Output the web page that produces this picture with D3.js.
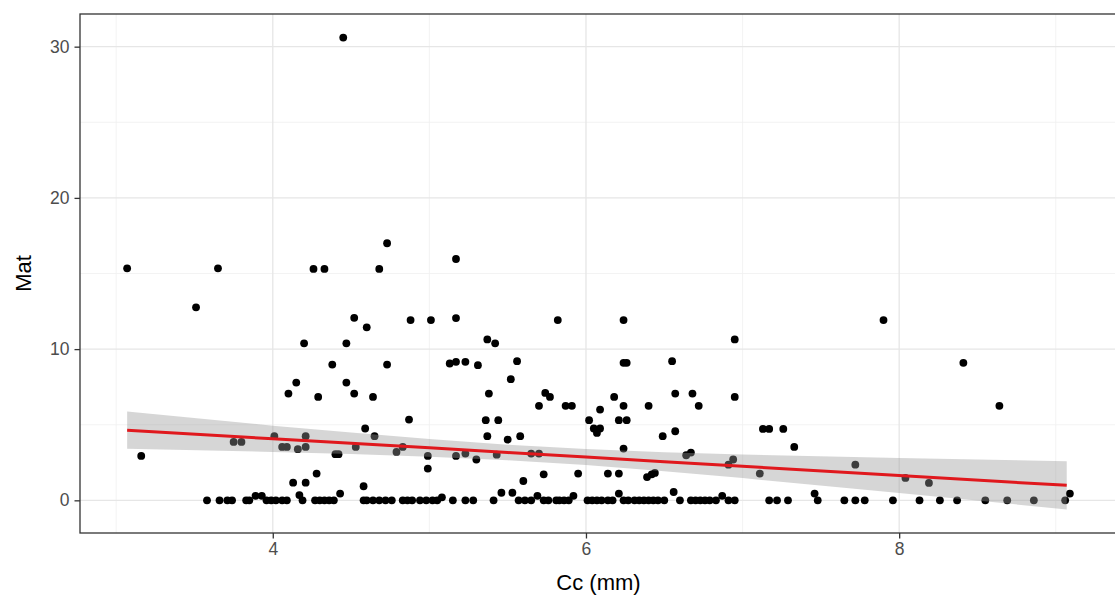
<!DOCTYPE html>
<html>
<head>
<meta charset="utf-8">
<script src="https://cdn.jsdelivr.net/npm/d3@7"></script>
<style>
  body { margin: 0; background: #fff; }
  text { font-family: "Liberation Sans", Arial, sans-serif; }
</style>
</head>
<body>
<svg id="chart" width="1115" height="605"></svg>
<script>
'use strict';

// points lying on (or just above) Mat = 0
const ccBase = [
  3.58, 3.66, 3.71, 3.74, 3.83, 3.85, 3.89, 3.93, 3.96, 3.99, 4.02, 4.06, 4.09, 4.17, 4.19, 4.27, 4.30, 4.33, 4.36, 4.39, 4.43,
  4.58, 4.60, 4.64, 4.68, 4.72, 4.76, 4.83, 4.86, 4.89, 4.94, 4.98, 5.02, 5.05, 5.08, 5.15, 5.23, 5.28, 5.41, 5.46, 5.53, 5.57,
  5.61, 5.65, 5.69, 5.73, 5.76, 5.81, 5.83, 5.86, 5.89, 5.92, 6.01, 6.04, 6.07, 6.10, 6.14, 6.17, 6.21, 6.24, 6.27, 6.31, 6.34,
  6.37, 6.40, 6.43, 6.46, 6.50, 6.56, 6.60, 6.67, 6.70, 6.73, 6.76, 6.79, 6.83, 6.87, 6.91, 6.95, 7.17, 7.22, 7.29,
  7.46, 7.48, 7.65, 7.72, 7.78, 7.96, 8.13, 8.26, 8.37, 8.55, 8.69, 8.86, 9.06, 9.09
];
const matBase = [
  0, 0, 0, 0, 0, 0, 0.3, 0.3, 0, 0, 0, 0, 0, 0.35, 0, 0, 0, 0, 0, 0, 0.45,
  0, 0, 0, 0, 0, 0, 0, 0, 0, 0, 0, 0, 0, 0.2, 0, 0, 0, 0, 0.5, 0.5, 0,
  0, 0, 0.3, 0, 0, 0, 0, 0, 0, 0.3, 0, 0, 0, 0, 0, 0, 0.45, 0, 0, 0, 0,
  0, 0, 0, 0, 0, 0.55, 0, 0, 0, 0, 0, 0, 0, 0.3, 0, 0, 0, 0, 0,
  0.45, 0, 0, 0, 0, 0, 0, 0, 0, 0, 0, 0, 0, 0.45
];

// the rest of the points
const ccRaised = [
  3.07, 3.16, 3.51, 3.65, 3.75, 3.80, 4.01, 4.06, 4.09, 4.10, 4.13, 4.15, 4.16, 4.20, 4.21, 4.21, 4.21, 4.26, 4.28, 4.29,
  4.33, 4.38, 4.40, 4.42, 4.45, 4.47, 4.47, 4.52, 4.52, 4.53, 4.58, 4.59, 4.60, 4.64, 4.65, 4.68, 4.73, 4.73, 4.79, 4.83,
  4.87, 4.88, 4.99, 4.99, 5.01, 5.13, 5.17, 5.17, 5.17, 5.17, 5.23, 5.23, 5.30, 5.31, 5.36, 5.37, 5.37, 5.38, 5.42, 5.43,
  5.44, 5.50, 5.52, 5.56, 5.58, 5.60, 5.65, 5.70, 5.70, 5.73, 5.74, 5.77, 5.82, 5.87, 5.91, 5.95, 6.02, 6.05, 6.07, 6.09,
  6.09, 6.14, 6.18, 6.21, 6.21, 6.24, 6.24, 6.24, 6.24, 6.26, 6.26, 6.39, 6.40, 6.42, 6.44, 6.49, 6.55, 6.57, 6.57, 6.64,
  6.67, 6.68, 6.72, 6.91, 6.94, 6.95, 6.95, 7.11, 7.13, 7.17, 7.26, 7.33, 7.72, 7.90, 8.04, 8.19, 8.41, 8.64
];
const matRaised = [
  15.34, 2.94, 12.76, 15.34, 3.86, 3.86, 4.24, 3.53, 3.53, 7.06, 1.17, 7.79, 3.38, 10.38, 4.24, 3.53, 1.17, 15.3, 1.77, 6.84,
  15.3, 8.98, 3.05, 3.05, 30.6, 10.38, 7.79, 12.07, 7.06, 3.53, 0.93, 4.75, 11.44, 6.84, 4.24, 15.3, 17.0, 8.98, 3.2, 3.53,
  5.34, 11.92, 2.94, 2.1, 11.92, 9.05, 15.96, 12.05, 9.16, 2.94, 9.16, 3.09, 2.7, 8.94, 5.3, 10.64, 4.24, 7.06, 10.38, 3.02,
  5.3, 4.02, 8.01, 9.2, 4.24, 1.28, 3.09, 6.25, 3.09, 1.72, 7.1, 6.84, 11.92, 6.25, 6.25, 1.77, 5.3, 4.75, 4.46, 4.75,
  6.0, 1.77, 6.84, 5.3, 1.77, 11.92, 9.09, 6.25, 3.42, 9.09, 5.3, 1.54, 6.25, 1.72, 1.81, 4.24, 9.2, 7.06, 4.57, 2.98,
  3.16, 7.06, 6.25, 2.36, 2.7, 10.64, 6.84, 1.77, 4.72, 4.72, 4.72, 3.53, 2.36, 11.92, 1.48, 1.15, 9.09, 6.25
];

// lm smooth as drawn: fitted Mat and 95% band, read at these Cc values
const fitCc    = [3.07, 4.0, 4.5, 5.0, 5.5, 6.0, 6.5, 7.0, 8.0, 9.07];
const fitMat   = [4.64, 4.07, 3.77, 3.47, 3.16, 2.86, 2.55, 2.25, 1.64, 0.99];
const fitUpper = [5.87, 4.94, 4.48, 4.05, 3.67, 3.39, 3.18, 3.03, 2.80, 2.58];
const fitLower = [3.41, 3.20, 3.06, 2.89, 2.65, 2.33, 1.92, 1.47, 0.49, -0.60];

const xTicks = [4, 6, 8];
const yTicks = [0, 10, 20, 30];
const xTitle = 'Cc (mm)';
const yTitle = 'Mat';

const toPoints = (cc, mat) => cc.map((c, i) => ({ cc: c, mat: mat[i] }));
const points = toPoints(ccBase, matBase).concat(toPoints(ccRaised, matRaised));
const fit = fitCc.map((c, i) => ({ cc: c, mat: fitMat[i], lo: fitLower[i], hi: fitUpper[i] }));

// ggplot-style 5% padding around the data
const expand = ([a, b]) => {
  const m = (b - a) * 0.05;
  return [a - m, b + m];
};

const xDomain = expand(d3.extent(points, d => d.cc));
const yDomain = expand([
  Math.min(d3.min(points, d => d.mat), d3.min(fit, d => d.lo)),
  Math.max(d3.max(points, d => d.mat), d3.max(fit, d => d.hi))
]);

const panel = { left: 80, right: 1117, top: 14, bottom: 533 };

const x = d3.scaleLinear().domain(xDomain).range([panel.left, panel.right]);
const y = d3.scaleLinear().domain(yDomain).range([panel.bottom, panel.top]);

const svg = d3.select('#chart');

svg.append('rect')
  .attr('x', panel.left).attr('y', panel.top)
  .attr('width', panel.right - panel.left).attr('height', panel.bottom - panel.top)
  .attr('fill', '#fff');

// grid
const xMinor = xTicks.map(v => v - 1).concat([xTicks[xTicks.length - 1] + 1]);
const yMinor = yTicks.slice(1).map(v => v - 5);
const grid = svg.append('g').attr('fill', 'none');
grid.selectAll('.vminor').data(xMinor).join('line')
  .attr('x1', d => x(d)).attr('x2', d => x(d))
  .attr('y1', panel.top).attr('y2', panel.bottom)
  .attr('stroke', '#f0f0f0').attr('stroke-width', 0.8);
grid.selectAll('.hminor').data(yMinor).join('line')
  .attr('y1', d => y(d)).attr('y2', d => y(d))
  .attr('x1', panel.left).attr('x2', panel.right)
  .attr('stroke', '#f0f0f0').attr('stroke-width', 0.8);
grid.selectAll('.vmajor').data(xTicks).join('line')
  .attr('x1', d => x(d)).attr('x2', d => x(d))
  .attr('y1', panel.top).attr('y2', panel.bottom)
  .attr('stroke', '#e6e6e6').attr('stroke-width', 1.3);
grid.selectAll('.hmajor').data(yTicks).join('line')
  .attr('y1', d => y(d)).attr('y2', d => y(d))
  .attr('x1', panel.left).attr('x2', panel.right)
  .attr('stroke', '#e6e6e6').attr('stroke-width', 1.3);

// points
svg.append('g')
  .selectAll('circle')
  .data(points)
  .join('circle')
  .attr('cx', d => x(d.cc))
  .attr('cy', d => y(d.mat))
  .attr('r', 3.9)
  .attr('fill', '#000');

// confidence band then fitted line
svg.append('path')
  .datum(fit)
  .attr('d', d3.area().x(d => x(d.cc)).y0(d => y(d.lo)).y1(d => y(d.hi)))
  .attr('fill', '#999999')
  .attr('fill-opacity', 0.4);

svg.append('path')
  .datum(fit)
  .attr('d', d3.line().x(d => x(d.cc)).y(d => y(d.mat)))
  .attr('fill', 'none')
  .attr('stroke', '#e0181d')
  .attr('stroke-width', 3);

// panel border
svg.append('rect')
  .attr('x', panel.left).attr('y', panel.top)
  .attr('width', panel.right - panel.left).attr('height', panel.bottom - panel.top)
  .attr('fill', 'none')
  .attr('stroke', '#333333')
  .attr('stroke-width', 1.3);

// axes
const styleAxis = (g) => {
  g.select('.domain').remove();
  g.selectAll('.tick line').attr('stroke', '#333333').attr('stroke-width', 1.3);
  g.selectAll('.tick text')
    .attr('fill', '#4d4d4d')
    .style('font-size', '17.5px')
    .style('font-family', '"Liberation Sans", Arial, sans-serif');
};

svg.append('g')
  .attr('transform', `translate(0,${panel.bottom})`)
  .call(d3.axisBottom(x).tickValues(xTicks).tickFormat(d3.format('d')).tickSize(5.5).tickPadding(4))
  .call(styleAxis);

svg.append('g')
  .attr('transform', `translate(${panel.left},0)`)
  .call(d3.axisLeft(y).tickValues(yTicks).tickFormat(d3.format('d')).tickSize(5.5).tickPadding(5))
  .call(styleAxis);

svg.append('text')
  .attr('x', (panel.left + panel.right) / 2)
  .attr('y', 590)
  .attr('text-anchor', 'middle')
  .attr('fill', '#000')
  .style('font-size', '22px')
  .text(xTitle);

svg.append('text')
  .attr('transform', `translate(31,${(panel.top + panel.bottom) / 2}) rotate(-90)`)
  .attr('text-anchor', 'middle')
  .attr('fill', '#000')
  .style('font-size', '22px')
  .text(yTitle);
</script>
</body>
</html>
